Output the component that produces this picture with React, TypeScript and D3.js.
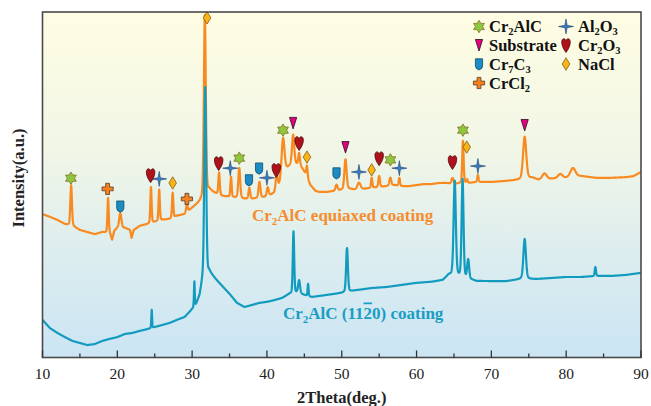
import React from 'react';
import * as d3 from 'd3';

const W = 651;
const H = 406;
const X_DOMAIN: [number, number] = [10, 90];
const Y_DOMAIN: [number, number] = [0, 1000];
const xTicksMajor = [10, 20, 30, 40, 50, 60, 70, 80, 90];
const xTicksMinor = [15, 25, 35, 45, 55, 65, 75, 85];

// Cr2AlC equiaxed coating: background (2θ, intensity a.u.)
const orangeBaseX = [10, 11, 12, 13, 14, 15, 16, 17, 18, 19, 19.3, 19.6, 20, 21, 21.7, 21.9, 22.2, 23, 24, 25, 26, 27, 28, 29, 30, 31, 31.4, 32.3, 33, 34, 35, 36, 37, 38, 39, 40, 41, 41.6, 42.5, 43.5, 44.5, 45.2, 45.8, 46.5, 47, 48, 49, 50, 51, 52, 53, 54, 55, 56, 57, 58, 59, 60, 61, 62, 63, 64, 65, 66, 67, 68, 70, 72, 73.5, 75.5, 76.3, 78, 80, 82, 84, 86, 88, 89, 90];
const orangeBaseY = [415, 407, 398, 386, 381, 369, 363, 357, 363, 360, 340, 366, 375, 375, 369, 346, 369, 381, 386, 392, 398, 401, 410, 415, 433, 450, 462, 485, 476, 467, 465, 462, 459, 459, 462, 465, 476, 496, 543, 563, 554, 531, 499, 482, 479, 479, 482, 485, 488, 485, 488, 491, 493, 496, 499, 496, 496, 499, 502, 502, 505, 505, 502, 505, 505, 508, 508, 511, 514, 520, 514, 517, 520, 525, 520, 520, 522, 525, 537];
// peaks: [2θ, height above background, FWHM]
const orangePeaks: [number, number, number][] = [
  [13.83, 116, 0.25], [18.77, 101, 0.2], [20.4, 43, 0.35], [24.5, 104, 0.2], [25.6, 90, 0.2],
  [27.4, 72, 0.2], [29.3, 23, 0.25], [31.7, 521, 0.3], [33.6, 64, 0.22], [35.2, 58, 0.2],
  [36.3, 87, 0.3], [37.65, 32, 0.25], [39.0, 46, 0.3], [40.1, 26, 0.3], [41.3, 46, 0.3],
  [42.15, 110, 0.45], [43.5, 81, 0.35], [44.3, 35, 0.25], [45.35, 32, 0.2], [49.3, 17, 0.3],
  [50.5, 87, 0.35], [52.3, 20, 0.5], [54.0, 29, 0.2], [55.0, 32, 0.25], [56.5, 23, 0.3],
  [57.7, 23, 0.2], [64.8, 17, 0.3], [66.2, 122, 0.22], [66.75, 10, 0.2], [68.2, 20, 0.2],
  [74.45, 122, 0.5], [77.1, 17, 0.7], [79.2, 12, 0.7], [80.9, 26, 0.8],
];

// Cr2AlC (11-20) coating
const tealBaseX = [10, 11, 12, 13, 14, 15, 16, 17, 18, 19, 20, 21, 22, 23, 24, 25, 26, 27, 28, 29, 29.8, 30.5, 31.0, 31.35, 32.3, 33, 34, 35, 36, 37, 38, 39, 40, 41, 42, 43, 44, 45, 46, 47, 48, 49, 50, 52, 54, 56, 58, 60, 62, 63.5, 64.3, 67.5, 68, 70, 72, 74, 76, 78, 80, 82, 84, 86, 88, 90];
const tealBaseY = [109, 85, 71, 59, 48, 42, 36, 39, 48, 54, 59, 68, 71, 77, 82, 88, 94, 100, 109, 117, 135, 152, 178, 219, 247, 230, 207, 184, 158, 146, 152, 158, 161, 166, 172, 184, 187, 181, 175, 178, 181, 184, 187, 195, 201, 204, 210, 216, 219, 224, 239, 224, 221, 221, 221, 227, 227, 230, 233, 233, 236, 236, 239, 245];
const tealPeaks: [number, number, number][] = [
  [24.6, 52, 0.12], [30.3, 72, 0.12], [31.75, 552, 0.3], [43.55, 179, 0.22], [44.3, 38, 0.3],
  [45.5, 35, 0.15], [50.7, 127, 0.28], [65.1, 275, 0.35], [66.15, 284, 0.3], [66.9, 55, 0.3],
  [74.45, 116, 0.4], [83.9, 26, 0.2],
];

// phase markers on the equiaxed pattern: [phase, 2θ, intensity]
const markers: [string, number, number][] = [
  ['Cr2AlC', 13.8, 519], ['Cr2AlC', 36.3, 577], ['Cr2AlC', 42.15, 658], ['Cr2AlC', 56.5, 572], ['Cr2AlC', 66.2, 658],
  ['Al2O3', 25.6, 517], ['Al2O3', 35.1, 548], ['Al2O3', 40.0, 520], ['Al2O3', 52.3, 537], ['Al2O3', 57.7, 548], ['Al2O3', 68.2, 554],
  ['Substrate', 43.5, 679], ['Substrate', 50.5, 609], ['Substrate', 74.45, 673],
  ['Cr2O3', 24.45, 528], ['Cr2O3', 33.55, 563], ['Cr2O3', 41.25, 543], ['Cr2O3', 44.3, 621], ['Cr2O3', 55.0, 577], ['Cr2O3', 64.8, 566],
  ['Cr7C3', 20.4, 438], ['Cr7C3', 37.6, 514], ['Cr7C3', 38.95, 548], ['Cr7C3', 49.3, 534],
  ['NaCl', 27.4, 505], ['NaCl', 32.0, 983], ['NaCl', 45.35, 580], ['NaCl', 54.0, 543], ['NaCl', 66.7, 609],
  ['CrCl2', 18.7, 488], ['CrCl2', 29.3, 459],
];

const legendItems: [string, string, number, number][] = [
  ['Cr2AlC', 'Cr_2AlC', 0, 0], ['Al2O3', 'Al_2O_3', 1, 0],
  ['Substrate', 'Substrate', 0, 1], ['Cr2O3', 'Cr_2O_3', 1, 1],
  ['Cr7C3', 'Cr_7C_3', 0, 2], ['NaCl', 'NaCl', 1, 2],
  ['CrCl2', 'CrCl_2', 0, 3],
];

const ORANGE = '#f98a1f';
const TEAL = '#129bbf';

const M = { left: 42.5, right: 641, top: 12, bottom: 357.5 };

function buildSeries(bx: number[], by: number[], peaks: [number, number, number][]) {
  const base = d3.scaleLinear().domain(bx).range(by).clamp(true);
  const xs = d3.range(10, 90.0001, 0.02).concat(peaks.map((p) => p[0])).sort((a, b) => a - b);
  return xs.map((x) => {
    let v = base(x);
    for (const [c, a, w] of peaks) {
      const d = (x - c) / w;
      if (Math.abs(d) > 40) continue;
      const g = Math.exp(-4 * Math.LN2 * d * d);
      const l = 1 / (1 + 4 * d * d);
      v += a * (0.75 * g + 0.25 * l);
    }
    return [x, v] as [number, number];
  });
}

function MarkerShape({ phase }: { phase: string }) {
  switch (phase) {
    case 'Cr2AlC': {
      const R = 6.2, r = 3.6;
      const pts = d3.range(12).map((i) => {
        const a = (Math.PI / 6) * i - Math.PI / 2;
        const rr = i % 2 === 0 ? R : r;
        return [rr * Math.cos(a), rr * Math.sin(a)];
      });
      return <path d={'M' + pts.map((p) => p.join(',')).join('L') + 'Z'} fill="#8dc63f" stroke="#8a7a2a" strokeWidth={0.9} />;
    }
    case 'Al2O3': {
      const R = 7.5, r = 1.6;
      const pts = d3.range(8).map((i) => {
        const a = (Math.PI / 4) * i - Math.PI / 2;
        const rr = i % 2 === 0 ? R : r;
        return [rr * Math.cos(a), rr * Math.sin(a)];
      });
      return <path d={'M' + pts.map((p) => p.join(',')).join('L') + 'Z'} fill="#3b7dc4" stroke="#1d3f6e" strokeWidth={0.6} />;
    }
    case 'Substrate':
      return <path d="M-3.6,-5.5 L3.6,-5.5 L0,6 Z" fill="#e4007f" stroke="#3a1a2a" strokeWidth={0.9} />;
    case 'Cr2O3':
      return <path d="M0,7.5 C-3,3.5 -4.6,-0.5 -4.2,-3.8 C-3.8,-6.8 -1,-7.2 0,-4.2 C1,-7.2 3.8,-6.8 4.2,-3.8 C4.6,-0.5 3,3.5 0,7.5 Z" fill="#b0111b" stroke="#4a0a0a" strokeWidth={0.8} />;
    case 'Cr7C3':
      return <path d="M-3.6,-5.2 L3.6,-5.2 L3.6,2 Q3.6,4.8 0,6 Q-3.6,4.8 -3.6,2 Z" fill="#1b8dc4" stroke="#124a6a" strokeWidth={0.8} />;
    case 'NaCl':
      return <path d="M0,-6.2 L3.8,0 L0,6.2 L-3.8,0 Z" fill="#f9b517" stroke="#8a5a10" strokeWidth={0.8} />;
    case 'CrCl2':
      return <path d="M-1.9,-5.6 L1.9,-5.6 L1.9,-1.9 L5.6,-1.9 L5.6,1.9 L1.9,1.9 L1.9,5.6 L-1.9,5.6 L-1.9,1.9 L-5.6,1.9 L-5.6,-1.9 L-1.9,-1.9 Z" fill="#f58220" stroke="#5a3a20" strokeWidth={0.8} />;
    default:
      return null;
  }
}

function Formula({ text, subSize, drop }: { text: string; subSize: number; drop: number }) {
  const parts = text.split(/(_\d+)/).filter((s) => s.length > 0);
  return (
    <>
      {parts.map((p, i) =>
        p.startsWith('_') ? (
          <tspan key={i} fontSize={subSize} dy={drop}>{p.slice(1)}</tspan>
        ) : (
          <tspan key={i} dy={i > 0 && parts[i - 1].startsWith('_') ? -drop : 0}>{p}</tspan>
        )
      )}
    </>
  );
}

const serif: React.CSSProperties = { fontFamily: "'Liberation Serif', 'Times New Roman', serif" };

export default function App() {
  const x = d3.scaleLinear().domain(X_DOMAIN).range([M.left, M.right]);
  const y = d3.scaleLinear().domain(Y_DOMAIN).range([M.bottom, M.top]);
  const line = d3.line<[number, number]>().x((d) => x(d[0])).y((d) => y(d[1]));
  const orange = buildSeries(orangeBaseX, orangeBaseY, orangePeaks);
  const teal = buildSeries(tealBaseX, tealBaseY, tealPeaks);

  const legendCol = [{ mx: 479, tx: 489 }, { mx: 566, tx: 578 }];
  const legendRow = [{ my: 26.5, ty: 31.5 }, { my: 45, ty: 50.5 }, { my: 64, ty: 69.5 }, { my: 83, ty: 88.5 }];

  return (
    <svg width={W} height={H} style={{ position: 'absolute', left: 0, top: 0, background: '#fff' }}>
      <defs>
        <linearGradient id="bg" x1="0" y1="0" x2="0" y2="1">
          <stop offset="0%" stopColor="#fffde3" />
          <stop offset="40%" stopColor="#f1f6e6" />
          <stop offset="70%" stopColor="#dcedef" />
          <stop offset="100%" stopColor="#cbe5f4" />
        </linearGradient>
        <clipPath id="plotclip">
          <rect x={M.left} y={M.top} width={M.right - M.left} height={M.bottom - M.top} />
        </clipPath>
      </defs>
      <rect x={M.left} y={M.top} width={M.right - M.left} height={M.bottom - M.top} fill="url(#bg)" />
      <g clipPath="url(#plotclip)">
        <path d={line(orange) || ''} fill="none" stroke={ORANGE} strokeWidth={2.2} strokeLinejoin="round" />
        <path d={line(teal) || ''} fill="none" stroke={TEAL} strokeWidth={2.2} strokeLinejoin="round" />
      </g>
      {markers.map(([ph, mx, my], i) => (
        <g key={i} transform={`translate(${x(mx)},${y(my)})`}>
          <MarkerShape phase={ph} />
        </g>
      ))}
      {/* frame */}
      <rect x={M.left} y={M.top} width={M.right - M.left} height={M.bottom - M.top} fill="none" stroke="#4a4a4a" strokeWidth={1.6} />
      {xTicksMajor.map((t) => (
        <g key={'M' + t}>
          <line x1={x(t)} x2={x(t)} y1={M.bottom} y2={M.bottom - 7} stroke="#333" strokeWidth={1.3} />
          <text x={x(t)} y={379} textAnchor="middle" fontSize={15.5} fill="#222" style={serif}>{t}</text>
        </g>
      ))}
      {xTicksMinor.map((t) => (
        <line key={'m' + t} x1={x(t)} x2={x(t)} y1={M.bottom} y2={M.bottom - 4} stroke="#333" strokeWidth={1.3} />
      ))}
      <text x={(M.left + M.right) / 2} y={403} textAnchor="middle" fontSize={16.5} fontWeight="bold" fill="#222" style={serif}>2Theta(deg.)</text>
      <text transform="translate(24,178) rotate(-90)" textAnchor="middle" fontSize={16.5} fontWeight="bold" fill="#222" style={serif}>Intensity(a.u.)</text>

      {/* series labels */}
      <text x={252} y={220.5} fontSize={17} fontWeight="bold" fill="#f68c2e" style={serif}>
        <Formula text="Cr_2AlC equiaxed coating" subSize={11} drop={4} />
      </text>
      <text x={283} y={318.5} fontSize={17} fontWeight="bold" fill="#1a9dc4" style={serif}>
        <tspan>Cr</tspan>
        <tspan fontSize={11} dy={4}>2</tspan>
        <tspan dy={-4}>AlC (11</tspan>
        <tspan style={{ textDecoration: 'overline' }}>2</tspan>
        <tspan>0) coating</tspan>
      </text>

      {/* legend */}
      {legendItems.map(([ph, label, c, r]) => (
        <g key={ph}>
          <g transform={`translate(${legendCol[c].mx},${legendRow[r].my})`}>
            <MarkerShape phase={ph} />
          </g>
          <text x={legendCol[c].tx} y={legendRow[r].ty} fontSize={16.5} fontWeight="bold" fill="#111" style={serif}>
            <Formula text={label} subSize={10.5} drop={3.5} />
          </text>
        </g>
      ))}
    </svg>
  );
}
